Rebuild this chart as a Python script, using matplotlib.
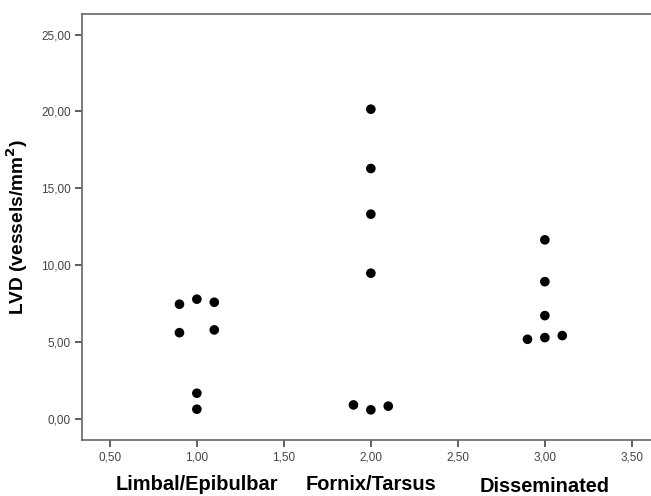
import matplotlib
matplotlib.use("Agg")
import matplotlib.pyplot as plt

plt.rcParams['font.family'] = ['Liberation Sans', 'DejaVu Sans']

# values (x = group position with SPSS jitter, y = LVD)
groups = ["Limbal/Epibulbar", "Fornix/Tarsus", "Disseminated"]
group_pos = [1, 2, 3]

limbal_x = [0.9, 1.0, 1.1, 0.9, 1.1, 1.0, 1.0]
limbal_y = [7.46, 7.79, 7.59, 5.61, 5.79, 1.67, 0.63]

fornix_x = [2.0, 2.0, 2.0, 2.0, 1.9, 2.0, 2.1]
fornix_y = [20.15, 16.29, 13.32, 9.48, 0.91, 0.59, 0.83]

dissem_x = [3.0, 3.0, 3.0, 2.9, 3.0, 3.1]
dissem_y = [11.65, 8.93, 6.72, 5.18, 5.29, 5.42]

xticks = [0.5, 1.0, 1.5, 2.0, 2.5, 3.0, 3.5]
yticks = [0, 5, 10, 15, 20, 25]

fig = plt.figure(figsize=(6.51, 4.96), dpi=100)
ax = fig.add_axes([0.126, 0.113, 0.874, 0.859])

for xs, ys in [(limbal_x, limbal_y), (fornix_x, fornix_y), (dissem_x, dissem_y)]:
    ax.scatter(xs, ys, s=48, color="black", edgecolors="none", zorder=3)

ax.set_xlim(0.34, 3.61)
ax.set_ylim(-1.37, 26.35)
ax.set_xticks(xticks)
ax.set_xticklabels([("%.2f" % t).replace(".", ",") for t in xticks])
ax.set_yticks(yticks)
ax.set_yticklabels([("%.2f" % t).replace(".", ",") for t in yticks])
ax.tick_params(axis="both", direction="out", length=5, width=1.2,
               color="#444444", labelsize=8.5, labelcolor="#444444", pad=3)

for side in ["left", "bottom", "top"]:
    ax.spines[side].set_color("#666666")
    ax.spines[side].set_linewidth(1.2)
ax.spines["right"].set_visible(False)

ax.set_ylabel("LVD (vessels/mm$^\\mathbf{2}$)", fontsize=13.8, fontweight="bold", labelpad=8)

# category names sit under the axis; the last one a little lower, as in the source
offsets = [-0.104, -0.104, -0.109]
for g, p, off in zip(groups, group_pos, offsets):
    ax.text(p, off, g, transform=ax.get_xaxis_transform(), ha="center", va="center",
            fontsize=14.4, fontweight="bold")

fig.savefig("out.png", dpi=100)
